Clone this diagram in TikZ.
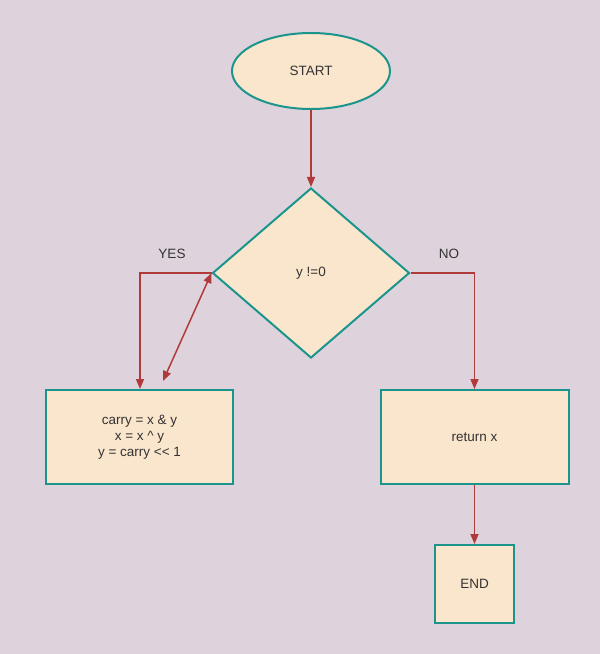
\documentclass[tikz,border=0pt]{standalone}
\usepackage{fontspec}
\setmainfont{Liberation Sans}
\usetikzlibrary{shapes.geometric,arrows.meta}
\definecolor{bg}{HTML}{DED3DC}
\definecolor{boxfill}{HTML}{FAE6CD}
\definecolor{teal}{HTML}{1B958C}
\definecolor{arr}{HTML}{B03A3A}
\begin{document}
\begin{tikzpicture}[x=1pt,y=-1pt,
  shp/.style={draw=teal,fill=boxfill,line width=2pt,font=\fontsize{13.5}{16}\selectfont,text=black!80,inner sep=0pt,align=center},
  conn/.style={draw=arr,line width=1.5pt,-{Triangle[length=10pt,width=8pt]}},
  lbl/.style={font=\fontsize{13.5}{16}\selectfont,text=black!80}]
\fill[bg] (0,0) rectangle (600,654);
\useasboundingbox (0,0) rectangle (600,654);
\node[shp,ellipse,minimum width=158pt,minimum height=76pt] (start) at (311,71) {START};
\node[shp,diamond,minimum width=197pt,minimum height=170pt] (dec) at (311,273) {y !=0};
\node[shp,minimum width=187pt,minimum height=94pt] (body) at (139.5,437) {carry = x \& y\\x = x \^{} y\\y = carry {<}{<} 1};
\node[shp,minimum width=188pt,minimum height=94pt] (ret) at (474.5,437) {return x};
\node[shp,minimum width=79pt,minimum height=78pt] (end) at (474.5,584) {END};
\coordinate (yc) at (140,273);
\coordinate (nc) at (474.5,273);
\coordinate (bt) at (163,381);
\draw[conn] (start) -- (dec);
\draw[conn] (dec.west) -- (yc) -- (yc |- body.north);
\draw[conn] (dec.east) -- (nc) -- (nc |- ret.north);
\draw[conn] (ret) -- (end);
\draw[conn,{Triangle[length=10pt,width=8pt]}-{Triangle[length=10pt,width=8pt]}] (bt) -- (dec.west);
\node[lbl] (yes) at (172,254) {YES};
\node[lbl] (no) at (449,254) {NO};
\end{tikzpicture}
\end{document}
